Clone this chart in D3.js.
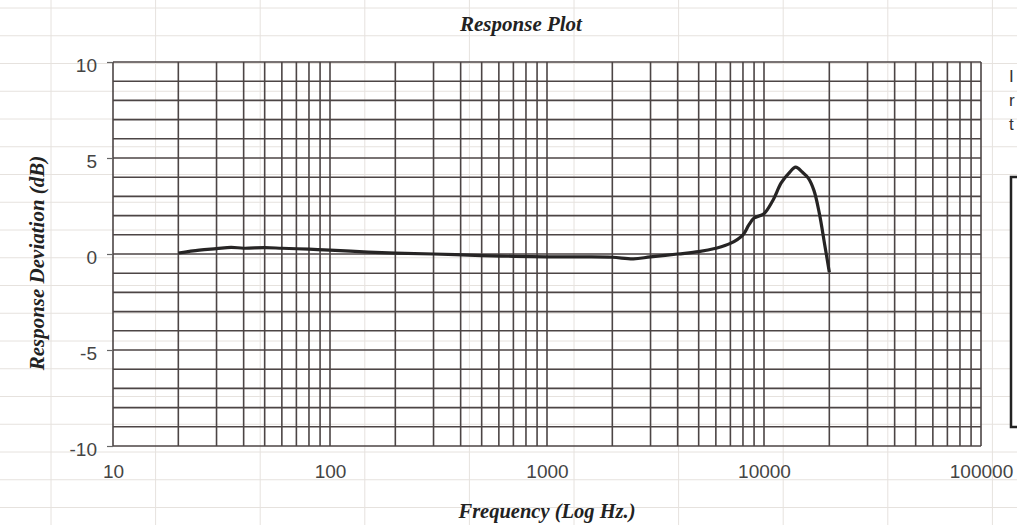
<!DOCTYPE html>
<html>
<head>
<meta charset="utf-8">
<script src="https://cdn.jsdelivr.net/npm/d3@7"></script>
<style>
  body { margin: 0; background: #fff; overflow: hidden; }
  svg { display: block; }
</style>
</head>
<body>
<svg id="chart"></svg>
<script>
// measured response, frequency in Hz and deviation in dB
const freqs = [20, 25, 30, 35, 40, 50, 60, 80, 100, 150, 200, 300, 500, 700, 1000, 1500, 2000, 2500, 3000, 4000,
  5000, 6000, 7000, 8000, 8500, 9000, 10000, 11000, 12000, 13000, 14000, 15000, 16000, 17000, 18000, 19000, 20000];
const deviation = [0.05, 0.2, 0.28, 0.35, 0.3, 0.33, 0.3, 0.25, 0.2, 0.1, 0.05, 0.0, -0.08, -0.12, -0.15, -0.15, -0.17, -0.25, -0.15, 0.0,
  0.12, 0.3, 0.55, 1.0, 1.5, 1.87, 2.1, 2.8, 3.7, 4.2, 4.52, 4.27, 3.95, 3.3, 2.1, 0.55, -0.95];

const xTicks = [10, 100, 1000, 10000, 100000];
const yTicks = [-10, -5, 0, 5, 10];
const sideText = ["I", "r", "t"];

const W = 1017, H = 525;
const plot = { left: 113, right: 981, top: 62, bottom: 446 };

const svg = d3.select("#chart").attr("width", W).attr("height", H);

// faint spreadsheet cells behind the chart
const sheet = svg.append("g").attr("stroke", "#e6e2de").attr("stroke-width", 1);
sheet.selectAll("line.col")
  .data(d3.range(51, W, 104.6))
  .enter().append("line")
  .attr("x1", d => d).attr("x2", d => d)
  .attr("y1", 0).attr("y2", H);
sheet.selectAll("line.row")
  .data(d3.range(8, H, 27.75))
  .enter().append("line")
  .attr("y1", d => d).attr("y2", d => d)
  .attr("x1", 0).attr("x2", W);

const x = d3.scaleLog().domain([10, 100000]).range([plot.left, plot.right]);
const y = d3.scaleLinear().domain([-10, 10]).range([plot.bottom, plot.top]);

// grid: every 1 dB and every 1..9 per decade
const grid = svg.append("g").attr("stroke", "#4c4545").attr("stroke-width", 1.6);
const xGrid = [];
for (let dec = 10; dec < 100000; dec *= 10) {
  for (let m = 1; m < 10; m++) xGrid.push(dec * m);
}
xGrid.push(100000);

grid.selectAll("line.v")
  .data(xGrid)
  .enter().append("line")
  .attr("x1", d => x(d)).attr("x2", d => x(d))
  .attr("y1", plot.top).attr("y2", plot.bottom);

grid.selectAll("line.h")
  .data(d3.range(-10, 11))
  .enter().append("line")
  .attr("x1", plot.left).attr("x2", plot.right)
  .attr("y1", d => y(d)).attr("y2", d => y(d));

const plain = d => String(d);  // hyphen minus, like the original

// axes
const yAxis = svg.append("g")
  .attr("transform", `translate(${plot.left},0)`)
  .call(d3.axisLeft(y).tickValues(yTicks).tickSize(6).tickPadding(10).tickFormat(plain));
yAxis.select(".domain").remove();
yAxis.selectAll(".tick line").attr("stroke", "#666").attr("stroke-width", 1.2);
yAxis.selectAll("text")
  .attr("dy", "0.5em")
  .style("font-family", "'Liberation Sans', Arial, sans-serif")
  .style("font-size", "19px")
  .attr("fill", "#444");

const xAxis = svg.append("g")
  .attr("transform", `translate(0,${plot.bottom})`)
  .call(d3.axisBottom(x).tickValues(xTicks).tickSize(0).tickPadding(19).tickFormat(plain));
xAxis.select(".domain").remove();
xAxis.selectAll("text")
  .style("font-family", "'Liberation Sans', Arial, sans-serif")
  .style("font-size", "19px")
  .attr("fill", "#444");

// response curve
const line = d3.line()
  .x((d, i) => x(freqs[i]))
  .y(d => y(d))
  .curve(d3.curveCatmullRom.alpha(0.5));

svg.append("path")
  .datum(deviation)
  .attr("fill", "none")
  .attr("stroke", "#262424")
  .attr("stroke-width", 3.2)
  .attr("stroke-linejoin", "round")
  .attr("d", line);

// titles
const serif = "'Liberation Serif', 'Times New Roman', serif";
svg.append("text")
  .attr("x", 521).attr("y", 31)
  .attr("text-anchor", "middle")
  .style("font-family", serif).style("font-size", "21px")
  .style("font-weight", "bold").style("font-style", "italic")
  .attr("fill", "#222")
  .text("Response Plot");

svg.append("text")
  .attr("transform", "translate(44,263) rotate(-90)")
  .attr("text-anchor", "middle")
  .style("font-family", serif).style("font-size", "21px")
  .style("font-weight", "bold").style("font-style", "italic")
  .attr("fill", "#222")
  .text("Response Deviation (dB)");

svg.append("text")
  .attr("x", 547).attr("y", 518)
  .attr("text-anchor", "middle")
  .style("font-family", serif).style("font-size", "20.5px")
  .style("font-weight", "bold").style("font-style", "italic")
  .attr("fill", "#222")
  .text("Frequency (Log Hz.)");

// cut-off note and legend box on the right edge
svg.selectAll("text.side")
  .data(sideText)
  .enter().append("text")
  .attr("x", 1009)
  .attr("y", (d, i) => 82 + i * 24)
  .style("font-family", "'Liberation Sans', Arial, sans-serif")
  .style("font-size", "17px")
  .attr("fill", "#333")
  .text(d => d);

svg.append("rect")
  .attr("x", 1011).attr("y", 177)
  .attr("width", 30).attr("height", 250)
  .attr("fill", "#fff")
  .attr("stroke", "#222")
  .attr("stroke-width", 2.5);
</script>
</body>
</html>
